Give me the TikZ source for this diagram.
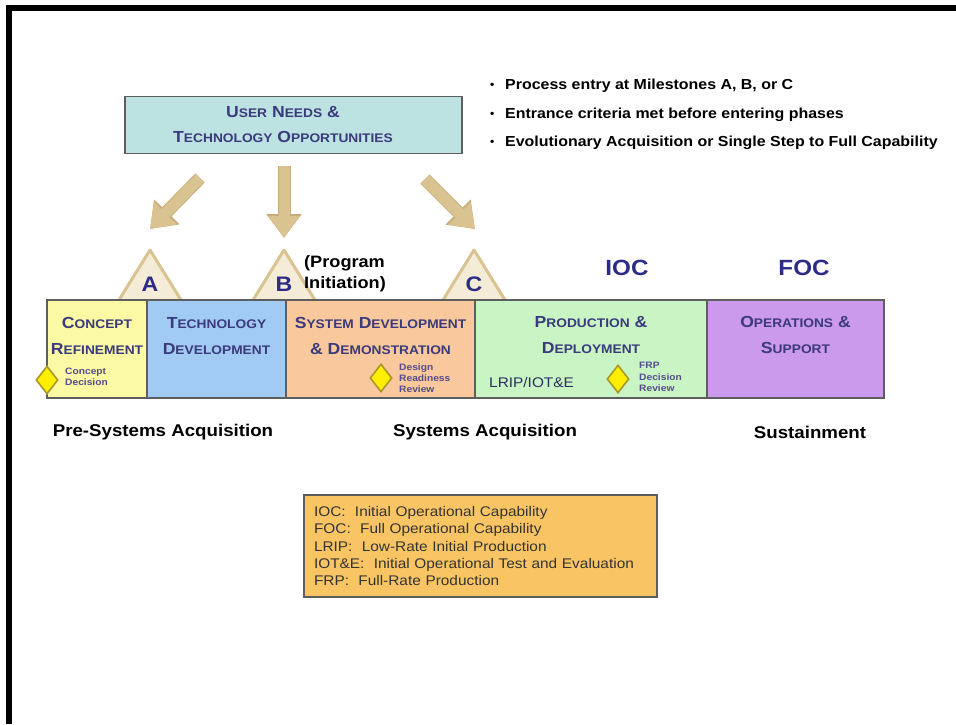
\documentclass[tikz,border=0pt]{standalone}
\usepackage{fontspec}
\setmainfont{Liberation Sans}[FakeStretch=1.1]
\usetikzlibrary{arrows.meta, shapes.geometric, positioning, calc}

\definecolor{needfill}{HTML}{BDE2E2}
\definecolor{frameline}{HTML}{5E5E5E}
\definecolor{tanarrow}{HTML}{D9C390}
\definecolor{tanedge}{HTML}{C7AE78}
\definecolor{msfill}{HTML}{F4ECD6}
\definecolor{navytext}{HTML}{2C2C86}
\definecolor{phasetext}{HTML}{3A3A7C}
\definecolor{crfill}{HTML}{FBF9A4}
\definecolor{tdfill}{HTML}{A2CBF3}
\definecolor{sdfill}{HTML}{F9C89C}
\definecolor{pdfill}{HTML}{C9F5C5}
\definecolor{osfill}{HTML}{CB9AEC}
\definecolor{decfill}{HTML}{FFEE00}
\definecolor{decedge}{HTML}{A8982A}
\definecolor{smalltext}{HTML}{564C8C}
\definecolor{legfill}{HTML}{F9C564}

\newcommand{\capsc}[2]{{\fontsize{16}{16}\selectfont #1}{\fontsize{12.5}{12.5}\selectfont #2}}

\tikzset{
  phasebox/.style={draw=frameline, line width=1.3pt, minimum height=98pt, anchor=north west, inner sep=0pt, outer sep=0pt},
  phasetitle/.style={text=phasetext, font=\fontsize{16}{26}\selectfont\bfseries, align=center, inner sep=0pt},
  bigarrow/.style={tanarrow, line width=11pt, -{Triangle[width=30pt,length=22pt]},
    preaction={draw=tanedge, line width=13pt, -{Triangle[width=34pt,length=24pt]}}},
  milestone/.style={fill=msfill, draw=tanarrow, line width=3pt, line join=round},
  msletter/.style={text=navytext, font=\fontsize{21}{21}\selectfont\bfseries, inner sep=0pt},
  decision/.style={shape=diamond, fill=decfill, draw=decedge, line width=1.6pt, minimum width=22pt, minimum height=28pt, inner sep=0pt},
  decnote/.style={text=smalltext, font=\fontsize{9.3}{11.3}\selectfont\bfseries, align=left, anchor=west, inner sep=0pt},
  bullet/.style={font=\fontsize{14.5}{14.5}\selectfont\bfseries, anchor=west, inner sep=0pt},
  stage/.style={font=\fontsize{17}{17}\selectfont\bfseries, inner sep=0pt},
  capability/.style={text=navytext, font=\fontsize{22}{22}\selectfont\bfseries, inner sep=0pt},
  legend/.style={fill=legfill, draw=frameline, line width=1.3pt, minimum width=353pt, minimum height=102pt,
    text width=333pt, inner xsep=10pt, align=left, text=black!80, font=\fontsize{14}{17.4}\selectfont}
}

\begin{document}
\begin{tikzpicture}[x=1pt, y=-1pt]
  \useasboundingbox (0,0) rectangle (956,724);
  \fill[white] (0,0) rectangle (956,724);
  \draw[line width=6pt] (8.5,724) -- (8.5,8) -- (956,8);

  % user needs
  \node[fill=needfill, draw=frameline, line width=1.3pt, minimum width=337pt, minimum height=57pt] (needs) at (293.5,125) {};
  \node[phasetitle, font=\fontsize{16}{25}\selectfont\bfseries] (needst) at (283,125)
    {\capsc{U}{SER} \capsc{N}{EEDS} \capsc{\&}{}\\\capsc{T}{ECHNOLOGY} \capsc{O}{PPORTUNITIES}};

  \foreach \y/\t [count=\i] in {86/{Process entry at Milestones A, B, or C},
      115/{Entrance criteria met before entering phases},
      143/{Evolutionary Acquisition or Single Step to Full Capability}}
  {
    \node[bullet] (dot\i) at (490,\y) {\fontsize{11}{11}\selectfont\textbullet};
    \node[bullet] (pt\i) at (505,\y) {\t};
  }

  % arrows to milestones
  \coordinate (tailA) at (200,178);
  \coordinate (tipA) at (150,229);
  \coordinate (tailB) at (284,166);
  \coordinate (tipB) at (284,238);
  \coordinate (tailC) at (425,179);
  \coordinate (tipC) at (475,229);
  \foreach \m in {A,B,C}
    \draw[bigarrow] (tail\m) -- (tip\m);

  % milestones
  \foreach \m/\x in {A/150,B/284,C/474}
  {
    \filldraw[milestone] (\x-31,300) -- (\x,250) -- (\x+31,300);
    \node[msletter] (ms\m) at (\x,284) {\m};
  }
  \node[font=\fontsize{16.5}{21}\selectfont\bfseries, align=left, anchor=west, inner sep=0pt] (initiation)
    at (304,274) {(Program\\Initiation)};

  \node[capability] (ioc) at (627,268) {IOC};
  \node[capability] (foc) at (804,268) {FOC};

  % phases
  \node[phasebox, fill=crfill, minimum width=100pt] (cr) at (47,300) {};
  \node[phasebox, fill=tdfill, minimum width=139pt] (td) at (cr.north east) {};
  \node[phasebox, fill=sdfill, minimum width=189pt] (sd) at (td.north east) {};
  \node[phasebox, fill=pdfill, minimum width=232pt] (pd) at (sd.north east) {};
  \node[phasebox, fill=osfill, minimum width=177pt] (os) at (pd.north east) {};

  \node[phasetitle] (crt) at ($(cr.north)+(0,36)$) {\capsc{C}{ONCEPT}\\\capsc{R}{EFINEMENT}};
  \node[phasetitle] (tdt) at ($(td.north)+(0,36)$) {\capsc{T}{ECHNOLOGY}\\\capsc{D}{EVELOPMENT}};
  \node[phasetitle] (sdt) at ($(sd.north)+(0,36)$) {\capsc{S}{YSTEM} \capsc{D}{EVELOPMENT}\\\capsc{\&}{} \capsc{D}{EMONSTRATION}};
  \node[phasetitle] (pdt) at ($(pd.north)+(0,35)$) {\capsc{P}{RODUCTION} \capsc{\&}{}\\\capsc{D}{EPLOYMENT}};
  \node[phasetitle] (ost) at ($(os.north)+(0,35)$) {\capsc{O}{PERATIONS} \capsc{\&}{}\\\capsc{S}{UPPORT}};

  % decision points
  \node[decision] (cdec) at (47,380) {};
  \node[decnote] (cdecnote) at (65,377) {Concept\\Decision};
  \node[decision] (drr) at (381,378) {};
  \node[decnote] (drrnote) at (399,378) {Design\\Readiness\\Review};
  \node[decision] (frp) at (618,379) {};
  \node[decnote] (frpnote) at (639,377) {FRP\\Decision\\Review};
  \node[text=phasetext!80!black, font=\fontsize{14}{14}\selectfont, anchor=west, inner sep=0pt] (lrip)
    at (489,382) {LRIP/IOT\&E};

  % acquisition stages
  \node[stage] (pre) at (163,432) {Pre-Systems Acquisition};
  \node[stage] (sys) at (485,432) {Systems Acquisition};
  \node[stage] (sus) at (810,432) {Sustainment};

  % abbreviations
  \node[legend] (leg) at (480.5,546) {IOC:\ \ Initial Operational Capability\\
    FOC:\ \ Full Operational Capability\\
    LRIP:\ \ Low-Rate Initial Production\\
    IOT\&E:\ \ Initial Operational Test and Evaluation\\
    FRP:\ \ Full-Rate Production};
\end{tikzpicture}
\end{document}
